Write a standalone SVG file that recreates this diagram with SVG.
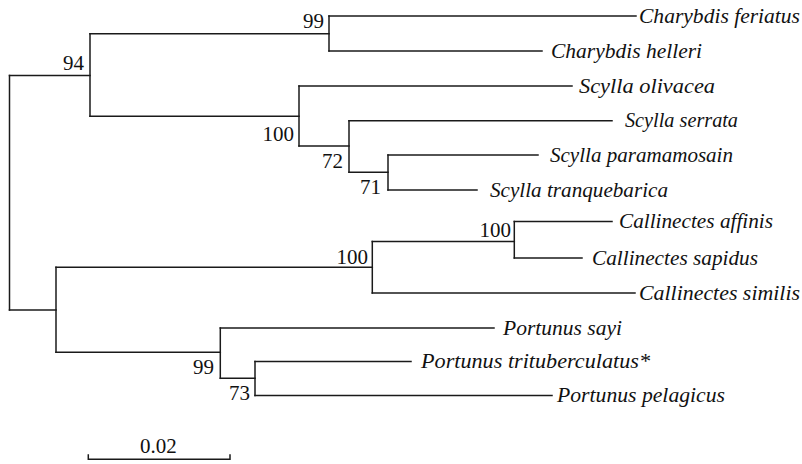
<svg xmlns="http://www.w3.org/2000/svg" width="802" height="464" viewBox="0 0 802 464">
<style>
  .br { fill: none; stroke: #1a1a1a; stroke-width: 1.5; stroke-linecap: square; }
  .lbl { font-family: "Liberation Serif", "Times New Roman", serif; font-style: italic; font-size: 20px; fill: #111; }
  .bs { font-family: "Liberation Serif", "Times New Roman", serif; font-size: 21px; fill: #111; text-anchor: end; }
</style>
<rect width="802" height="464" fill="#ffffff"/>
<g id="connectors">
  <path class="br" d="M9.5,75.5 V310"/>
  <path class="br" d="M9.5,75.5 H90"/>
  <path class="br" d="M90,33.7 V116.3"/>
  <path class="br" d="M90,33.7 H329"/>
  <path class="br" d="M329,16 V51"/>
  <path class="br" d="M329,16 H636"/>
  <path class="br" d="M329,51 H542"/>
  <path class="br" d="M90,116.3 H299"/>
  <path class="br" d="M299,86 V146"/>
  <path class="br" d="M299,86 H572"/>
  <path class="br" d="M299,146 H349"/>
  <path class="br" d="M349,120.7 V172.3"/>
  <path class="br" d="M349,120.7 H612"/>
  <path class="br" d="M349,172.3 H388"/>
  <path class="br" d="M388,155 V190"/>
  <path class="br" d="M388,155 H538"/>
  <path class="br" d="M388,190 H477"/>
  <path class="br" d="M9.5,310 H56"/>
  <path class="br" d="M56,267.3 V352.3"/>
  <path class="br" d="M56,267.3 H372.3"/>
  <path class="br" d="M372.3,241.5 V293"/>
  <path class="br" d="M372.3,241.5 H514.3"/>
  <path class="br" d="M514.3,221.5 V258"/>
  <path class="br" d="M514.3,221.5 H612"/>
  <path class="br" d="M514.3,258 H582"/>
  <path class="br" d="M372.3,293 H635"/>
  <path class="br" d="M56,352.3 H220.3"/>
  <path class="br" d="M220.3,328 V378.3"/>
  <path class="br" d="M220.3,328 H494"/>
  <path class="br" d="M220.3,378.3 H255"/>
  <path class="br" d="M255,361.5 V395.5"/>
  <path class="br" d="M255,361.5 H411"/>
  <path class="br" d="M255,395.5 H552"/>
</g>
<g id="n-charybdis-feriatus"><text class="lbl" x="639" y="22.5" textLength="161" lengthAdjust="spacingAndGlyphs">Charybdis feriatus</text></g>
<g id="n-charybdis-helleri"><text class="lbl" x="551" y="57.5" textLength="151" lengthAdjust="spacingAndGlyphs">Charybdis helleri</text></g>
<g id="n-scylla-olivacea"><text class="lbl" x="579" y="92.5" textLength="136" lengthAdjust="spacingAndGlyphs">Scylla olivacea</text></g>
<g id="n-scylla-serrata"><text class="lbl" x="625" y="127" textLength="113" lengthAdjust="spacingAndGlyphs">Scylla serrata</text></g>
<g id="n-scylla-paramamosain"><text class="lbl" x="550" y="161.5" textLength="183" lengthAdjust="spacingAndGlyphs">Scylla paramamosain</text></g>
<g id="n-scylla-tranquebarica"><text class="lbl" x="490" y="196.5" textLength="178" lengthAdjust="spacingAndGlyphs">Scylla tranquebarica</text></g>
<g id="n-callinectes-affinis"><text class="lbl" x="619" y="228" textLength="154" lengthAdjust="spacingAndGlyphs">Callinectes affinis</text></g>
<g id="n-callinectes-sapidus"><text class="lbl" x="592" y="264.5" textLength="166" lengthAdjust="spacingAndGlyphs">Callinectes sapidus</text></g>
<g id="n-callinectes-similis"><text class="lbl" x="639" y="299.5" textLength="161" lengthAdjust="spacingAndGlyphs">Callinectes similis</text></g>
<g id="n-portunus-sayi"><text class="lbl" x="503" y="334.5" textLength="119" lengthAdjust="spacingAndGlyphs">Portunus sayi</text></g>
<g id="n-portunus-trituberculatus"><text class="lbl" x="421" y="368" textLength="229" lengthAdjust="spacingAndGlyphs">Portunus trituberculatus*</text></g>
<g id="n-portunus-pelagicus"><text class="lbl" x="557" y="402" textLength="168" lengthAdjust="spacingAndGlyphs">Portunus pelagicus</text></g>
<g id="b-charybdis"><text class="bs" x="324" y="28">99</text></g>
<g id="b-94"><text class="bs" x="84" y="70">94</text></g>
<g id="b-scylla"><text class="bs" x="294" y="141">100</text></g>
<g id="b-72"><text class="bs" x="343" y="168">72</text></g>
<g id="b-71"><text class="bs" x="381" y="194">71</text></g>
<g id="b-callinectes"><text class="bs" x="368" y="263.5">100</text></g>
<g id="b-callinectes-inner"><text class="bs" x="511" y="237">100</text></g>
<g id="b-portunus"><text class="bs" x="214" y="374">99</text></g>
<g id="b-73"><text class="bs" x="250" y="400">73</text></g>
<g id="scale">
  <path class="br" d="M88.3,455 V459.3 H230 V455" stroke-linecap="butt"/>
  <text class="bs" x="158.3" y="453.3" style="text-anchor: middle">0.02</text>
</g>
</svg>
